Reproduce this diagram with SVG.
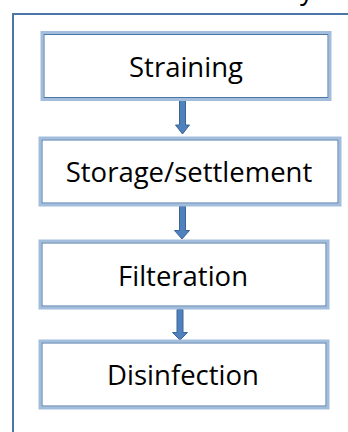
<svg xmlns="http://www.w3.org/2000/svg" width="348" height="432" viewBox="0 0 348 432">
<defs>
<style>
.outer{fill:#ffffff;stroke:#a3bddd;stroke-width:3}
.inner{fill:none;stroke:#4a76a8;stroke-width:1}
.lbl{font-family:"Open Sans","Noto Sans",sans-serif;font-size:27.5px;fill:#000;text-anchor:middle}
.arrow{fill:#4f81bd;stroke:#3a6596;stroke-width:1}
.frame{fill:none;stroke:#4a76a8;stroke-width:2}
</style>
</defs>
<rect width="348" height="432" fill="#ffffff"/>
<text x="300" y="-1" font-family="'Open Sans',sans-serif" font-size="27" fill="#000">y</text>
<path class="frame" d="M13 432 V14 H350"/>
<g id="connectors">
<path class="arrow" d="M179.5 100.5 H185.5 V125 H189.5 L182.5 134 L175.5 125 H179.5 Z"/>
<path class="arrow" d="M179.5 206 H185.5 V230.5 H189.5 L182 239 L174.5 230.5 H179.5 Z"/>
<path class="arrow" d="M177 309.5 H183 V332.5 H187.5 L180 340 L172.5 332.5 H177 Z"/>
</g>
<g id="straining">
<rect class="outer" x="42" y="32.5" width="288" height="67"/>
<rect class="inner" x="44" y="34.5" width="284" height="63"/>
<text class="lbl" x="186" y="77">Straining</text>
</g>
<g id="storage">
<rect class="outer" x="40" y="138" width="300" height="67"/>
<rect class="inner" x="42" y="140" width="296" height="63"/>
<text class="lbl" x="189" y="182">Storage/settlement</text>
</g>
<g id="filteration">
<rect class="outer" x="40" y="241" width="288" height="67"/>
<rect class="inner" x="42" y="243" width="284" height="63"/>
<text class="lbl" x="183" y="286">Filteration</text>
</g>
<g id="disinfection">
<rect class="outer" x="40" y="341" width="288" height="67"/>
<rect class="inner" x="42" y="343" width="284" height="63"/>
<text class="lbl" x="183" y="385">Disinfection</text>
</g>
</svg>
